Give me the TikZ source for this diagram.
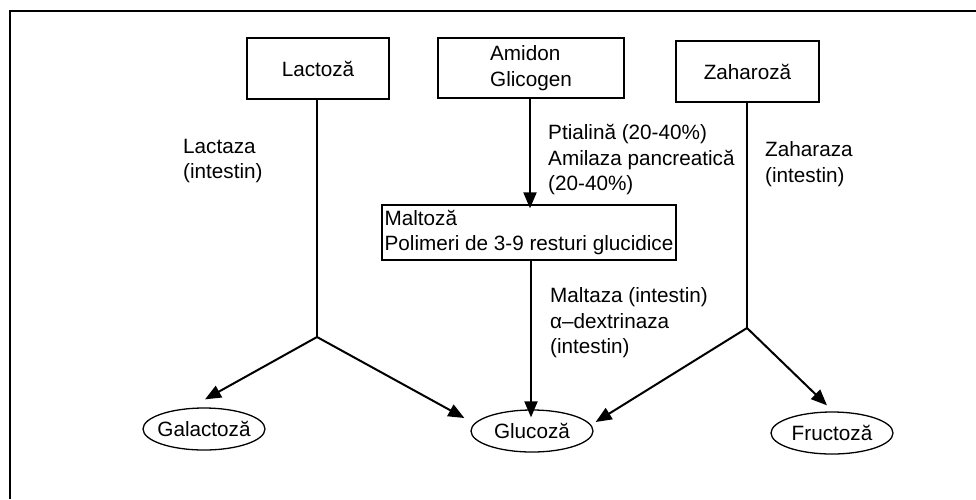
\documentclass[tikz,border=0pt]{standalone}
\usepackage{fontspec}
\setmainfont{Liberation Sans}
\usetikzlibrary{arrows.meta,shapes.geometric}
\begin{document}
\begin{tikzpicture}[x=1pt,y=-1pt,
  every node/.style={font=\fontsize{20.7}{25.5}\selectfont, inner sep=0pt},
  box/.style={draw, line width=1.3pt, minimum width=#1, minimum height=61pt},
  oval/.style={draw, ellipse, line width=1.3pt, inner xsep=-12pt, minimum width=122pt, minimum height=42pt},
  conn/.style={line width=2pt},
  arr/.style={conn, -{Triangle[length=16pt,width=13pt]}},
  lbl/.style={anchor=west, align=left}
]
\useasboundingbox (0,0) rectangle (976,499);
% outer frame (open at right and bottom)
\draw[line width=1.4pt] (10,499) -- (10,11) -- (976,11);

% source boxes
\node[box=142pt] (lac) at (318,68.5) {Lactoză};
\node[box=186pt, align=left, minimum height=60pt] (ami) at (531,68) {Amidon\\Glicogen};
\node[box=143pt] (zah) at (747.5,71.5) {Zaharoză};
\node[draw, line width=1.3pt, minimum width=294pt, minimum height=55pt, align=left, inner xsep=2.5pt] (mal) at (529,232.5) {Maltoză\\Polimeri de 3-9 resturi glucidice};

% products
\node[oval] (gal) at (204,429) {Galactoză};
\node[oval] (glu) at (532,431) {Glucoză};
\node[oval] (fru) at (832,433) {Fructoză};

% junctions
\coordinate (j1) at (317,337);
\coordinate (j2) at (747,328);

% connectors
\draw[conn] (lac.south -| j1) -- (j1);
\draw[arr] (j1) -- ([shift={(1,-8)}]gal.north);
\draw[arr] (j1) -- ([shift={(-6,-13)}]glu.west);
\draw[conn] (zah.south -| j2) -- (j2);
\draw[arr] (j2) -- ([shift={(2,-9)}]glu.east);
\draw[arr] (j2) -- ([shift={(-5,-6)}]fru.north);
\draw[arr] ([xshift=-1pt]ami.south) -- ([xshift=-1pt,yshift=-4pt]ami.south |- mal.north);
\draw[arr] (mal.south -| ami.south) -- ([yshift=-8pt]ami.south |- glu.north);

% enzyme labels
\node[lbl] (l1) at (183,161) {Lactaza\\(intestin)};
\node[lbl] (l2) at (548,160) {Ptialină (20-40\%)\\Amilaza pancreatică\\(20-40\%)};
\node[lbl] (l3) at (765,164) {Zaharaza\\(intestin)};
\node[lbl] (l4) at (550,323) {Maltaza (intestin)\\α–dextrinaza\\(intestin)};
\end{tikzpicture}
\end{document}
